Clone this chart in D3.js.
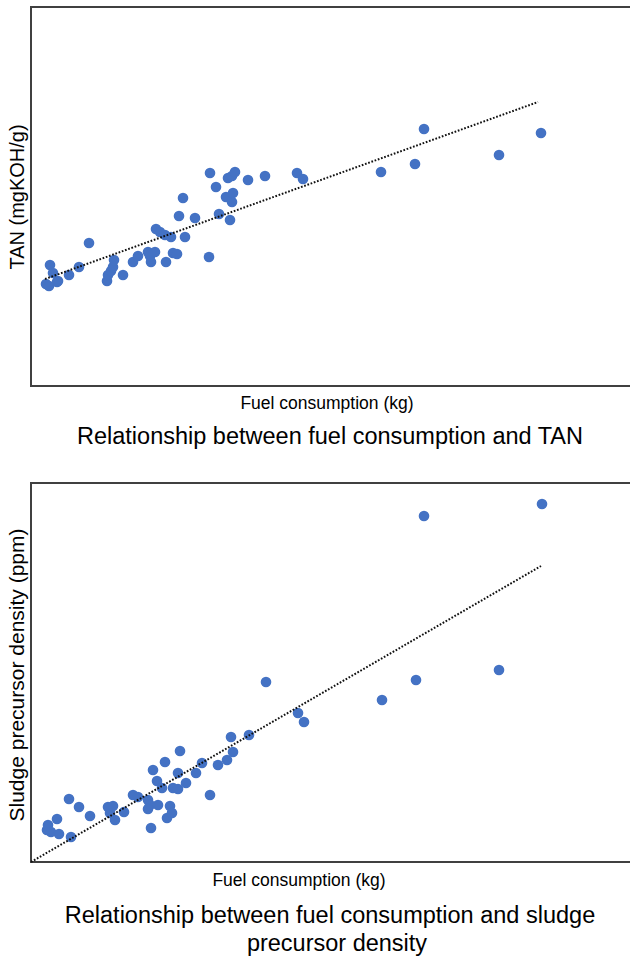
<!DOCTYPE html>
<html>
<head>
<meta charset="utf-8">
<script src="https://cdn.jsdelivr.net/npm/d3@7"></script>
<style>
  html, body { margin: 0; padding: 0; background: #fff; }
  svg { display: block; }
  text { font-family: "Liberation Sans", Arial, sans-serif; fill: #000; }
</style>
</head>
<body>
<svg id="chart" width="630" height="956"></svg>
<script>
// ---------- DATA (arbitrary units, no tick labels shown in original) ----------
// Chart 1: Fuel consumption vs TAN
const fuelTop = [15, 18, 19, 22, 26, 27, 38, 48, 58, 76, 77, 80, 82, 83, 92, 102, 107, 117, 120, 119, 124, 125, 129, 134, 135, 140, 142, 146, 148, 152, 154, 164, 178, 179, 185, 188, 195, 197, 199, 201, 201, 202, 204, 217, 234, 266, 272, 350, 384, 393, 468, 510];
const tanValues = [102, 100, 121, 113, 104, 105, 111, 119, 143, 105, 111, 115, 119, 126, 111, 124, 130, 134, 124, 130, 134, 157, 154, 151, 124, 149, 133, 132, 170, 188, 149, 168, 129, 213, 199, 172, 189, 208, 166, 210, 184, 193, 214, 206, 210, 213, 207, 214, 222, 257, 231, 253];
const trendTopX = [14, 507];
const trendTopY = [107, 284];

// Chart 2: Fuel consumption vs sludge precursor density
const fuelBottom = [16, 17, 20, 26, 28, 38, 40, 48, 59, 77, 79, 82, 84, 93, 102, 107, 117, 119, 117, 120, 122, 126, 127, 131, 134, 136, 139, 141, 142, 147, 147, 149, 155, 165, 171, 179, 187, 196, 200, 202, 218, 235, 267, 273, 351, 385, 393, 468, 511];
const sludgeValues = [32, 37, 30, 43, 28, 63, 25, 55, 46, 55, 49, 56, 42, 50, 67, 65, 62, 57, 53, 34, 92, 81, 57, 74, 100, 44, 56, 49, 74, 73, 89, 111, 79, 89, 99, 67, 97, 102, 125, 110, 127, 180, 149, 140, 162, 182, 346, 192, 358];
const trendBottomX = [0, 510];
const trendBottomY = [0, 296];

// ---------- LAYOUT ----------
const svg = d3.select("#chart");
const blue = "#4472C4";

function drawPanel(cfg) {
  const g = svg.append("g");
  const x = d3.scaleLinear().domain([0, 600]).range([cfg.left, cfg.left + 600]);
  const y = d3.scaleLinear().domain([0, cfg.bottom - cfg.top]).range([cfg.bottom, cfg.top]);

  // frame
  g.append("rect")
    .attr("x", cfg.left).attr("y", cfg.top)
    .attr("width", 640 - cfg.left).attr("height", cfg.bottom - cfg.top)
    .attr("fill", "none").attr("stroke", "#404040").attr("stroke-width", 2);

  // points
  g.selectAll("circle").data(cfg.xs.map((v, i) => [v, cfg.ys[i]]))
    .enter().append("circle")
    .attr("cx", d => x(d[0])).attr("cy", d => y(d[1]))
    .attr("r", 5.3).attr("fill", blue);

  // trend line (dotted)
  g.append("path")
    .datum(cfg.tx.map((v, i) => [v, cfg.ty[i]]))
    .attr("d", d3.line().x(d => x(d[0])).y(d => y(d[1])))
    .attr("fill", "none").attr("stroke", "#111")
    .attr("stroke-width", 2).attr("stroke-dasharray", "1.7 1.7");

  // y-axis label
  g.append("text")
    .attr("transform", `translate(${cfg.ylabX},${cfg.ylabY}) rotate(-90)`)
    .attr("text-anchor", "middle").attr("font-size", cfg.ylabSize)
    .text(cfg.ylab);

  // x-axis label
  g.append("text")
    .attr("x", cfg.xlabX).attr("y", cfg.xlabY)
    .attr("text-anchor", "middle").attr("font-size", 17.5)
    .text("Fuel consumption (kg)");

  // title
  cfg.title.forEach((line, i) => {
    g.append("text")
      .attr("x", cfg.titleX[i]).attr("y", cfg.titleY + i * 28)
      .attr("text-anchor", "middle").attr("font-size", 23.5)
      .text(line);
  });
}

drawPanel({
  left: 31, top: 7, bottom: 386,
  xs: fuelTop, ys: tanValues, tx: trendTopX, ty: trendTopY,
  ylab: "TAN (mgKOH/g)", ylabX: 24, ylabY: 197, ylabSize: 20,
  xlabX: 327, xlabY: 409,
  title: ["Relationship between fuel consumption and TAN"], titleX: [330], titleY: 444
});

drawPanel({
  left: 31, top: 483, bottom: 862,
  xs: fuelBottom, ys: sludgeValues, tx: trendBottomX, ty: trendBottomY,
  ylab: "Sludge precursor density (ppm)", ylabX: 24, ylabY: 675, ylabSize: 21,
  xlabX: 299, xlabY: 886,
  title: ["Relationship between fuel consumption and sludge", "precursor density"], titleX: [330, 337], titleY: 923
});
</script>
</body>
</html>
